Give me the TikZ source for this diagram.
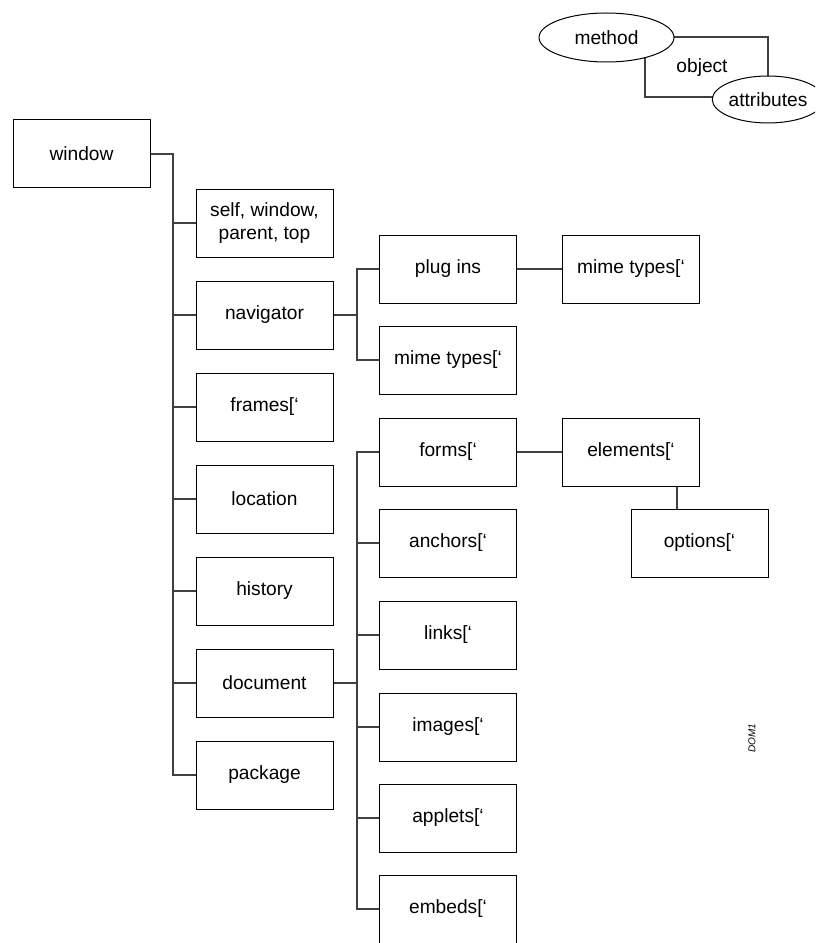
\documentclass[tikz,border=0pt]{standalone}
\usepackage{fontspec}
\setmainfont{Liberation Sans}
\usetikzlibrary{shapes.geometric}

\begin{document}
\begin{tikzpicture}[x=0.6pt, y=-0.6pt,
  obj/.style={draw, fill=white, line width=0.6pt, minimum width=82.2pt, minimum height=40.8pt,
    inner sep=2pt, align=center, font=\fontsize{11.5}{13.8}\selectfont},
  oval/.style={ellipse, draw, fill=white, line width=0.6pt, inner sep=0pt, font=\fontsize{11.5}{13.8}\selectfont},
  link/.style={line width=0.7pt, draw=black!75}]
  \clip (0,0) rectangle (815,943);
  % legend
  \coordinate (oTL) at (645,37);
  \coordinate (oBR) at (768,97);
  \draw[link] (oTL) rectangle (oBR);
  \node[font=\fontsize{11.5}{13.8}\selectfont] at (702,68) (objlbl) {object};
  \node[oval, minimum width=81pt, minimum height=29.4pt] at (606.5,37.5) (meth) {method};
  \node[oval, minimum width=53pt, minimum height=28.2pt] at (768,99.5) (attr) {attributes};
  % window and its children
  \node[obj] at (81.5,154) (win) {window};
  \node[obj] at (264.5,223) (self) {self, window,\\parent, top};
  \node[obj] at (264.5,315) (nav) {navigator};
  \node[obj] at (264.5,407) (frm) {frames[‘};
  \node[obj] at (264.5,499) (loc) {location};
  \node[obj] at (264.5,591) (his) {history};
  \node[obj] at (264.5,683) (doc) {document};
  \node[obj] at (264.5,775) (pkg) {package};
  % navigator children
  \node[obj] at (448,269) (plug) {plug ins};
  \node[obj] at (448,360) (mimeA) {mime types[‘};
  \node[obj] at (631,269) (mimeB) {mime types[‘};
  % document children
  \node[obj] at (448,452) (frms) {forms[‘};
  \node[obj] at (448,543) (anch) {anchors[‘};
  \node[obj] at (448,635) (lnk) {links[‘};
  \node[obj] at (448,727) (img) {images[‘};
  \node[obj] at (448,818) (appl) {applets[‘};
  \node[obj] at (448,909) (emb) {embeds[‘};
  \node[obj] at (631,452) (elem) {elements[‘};
  \node[obj] at (699.5,543) (opt) {options[‘};
  \node[rotate=90, font=\itshape\fontsize{6}{7}\selectfont] at (752,738) (tag) {DOM1};
  % trunks
  \coordinate (trA) at (173,0);
  \coordinate (trB) at (357,0);
  \coordinate (trC) at (677,0);
  \draw[link] (win.east) -| (trA |- pkg.west) -- (pkg.west);
  \foreach \n in {self,nav,frm,loc,his,doc}
    \draw[link] (\n.west) -- (\n.west -| trA);
  \draw[link] (nav.east) -- (nav.east -| trB);
  \draw[link] (plug.west) -| (trB |- mimeA.west) -- (mimeA.west);
  \draw[link] (doc.east) -- (doc.east -| trB);
  \draw[link] (frms.west) -| (trB |- emb.west) -- (emb.west);
  \foreach \n in {anch,lnk,img,appl}
    \draw[link] (\n.west) -- (\n.west -| trB);
  \draw[link] (plug) -- (mimeB);
  \draw[link] (frms) -- (elem);
  \draw[link] (trC |- elem.south) -- (trC |- opt.north);
\end{tikzpicture}
\end{document}
